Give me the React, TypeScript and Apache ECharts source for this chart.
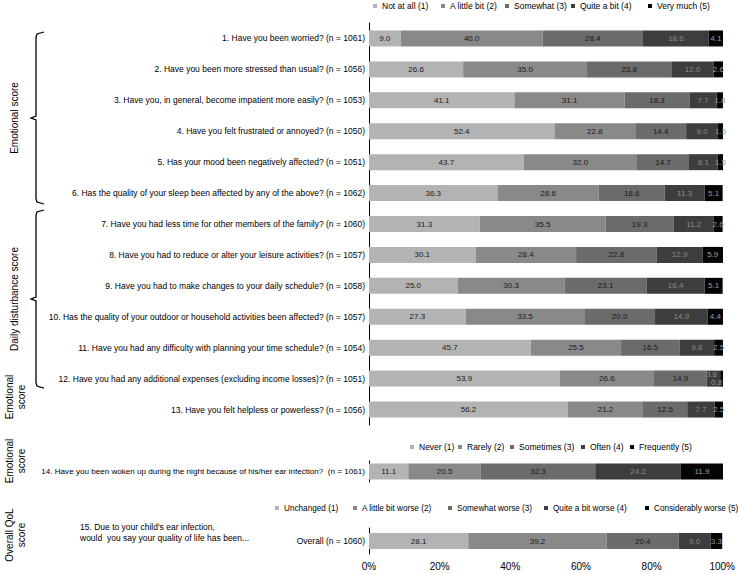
import React, { useEffect, useRef } from "react";
import * as echarts from "echarts";

const categories1 = [
  "1. Have you been worried? (n = 1061)",
  "2. Have you been more stressed than usual? (n = 1056)",
  "3. Have you, in general, become impatient more easily? (n = 1053)",
  "4. Have you felt frustrated or annoyed? (n = 1050)",
  "5. Has your mood been negatively affected? (n = 1051)",
  "6. Has the quality of your sleep been affected by any of the above? (n = 1062)",
  "7. Have you had less time for other members of the family? (n = 1060)",
  "8. Have you had to reduce or alter your leisure activities? (n = 1057)",
  "9. Have you had to make changes to your daily schedule? (n = 1058)",
  "10. Has the quality of your outdoor or household activities been affected? (n = 1057)",
  "11. Have you had any difficulty with planning your time schedule? (n = 1054)",
  "12. Have you had any additional expenses (excluding income losses)? (n = 1051)",
  "13. Have you felt helpless or powerless? (n = 1056)",
];
const legend1 = ["Not at all (1)", "A little bit (2)", "Somewhat (3)", "Quite a bit (4)", "Very much (5)"];
const notAtAll = [9.0, 26.6, 41.1, 52.4, 43.7, 36.3, 31.3, 30.1, 25.0, 27.3, 45.7, 53.9, 56.2];
const aLittleBit = [40.0, 35.0, 31.1, 22.8, 32.0, 28.6, 35.5, 28.4, 30.3, 33.5, 25.5, 26.6, 21.2];
const somewhat = [28.4, 23.8, 18.3, 14.4, 14.7, 18.6, 19.3, 22.8, 23.1, 20.0, 16.5, 14.9, 12.5];
const quiteABit = [18.6, 12.0, 7.7, 9.0, 8.1, 11.3, 11.2, 12.9, 16.4, 14.9, 9.8, 3.8, 7.7];
const veryMuch = [4.1, 2.6, 1.8, 1.5, 1.5, 5.1, 2.6, 5.9, 5.1, 4.4, 2.5, 0.8, 2.5];

const categories2 = ["14. Have you been woken up during the night because of his/her ear infection?  (n = 1061)"];
const legend2 = ["Never (1)", "Rarely (2)", "Sometimes (3)", "Often (4)", "Frequently (5)"];
const never = [11.1];
const rarely = [20.5];
const sometimes = [32.3];
const often = [24.2];
const frequently = [11.9];

const categories3 = ["Overall (n = 1060)"];
const legend3 = ["Unchanged (1)", "A little bit worse (2)", "Somewhat worse (3)", "Quite a bit worse (4)", "Considerably worse (5)"];
const unchanged = [28.1];
const littleWorse = [39.2];
const somewhatWorse = [20.4];
const quiteWorse = [9.0];
const considerablyWorse = [3.3];

const xTicks = [0, 20, 40, 60, 80, 100];

const COLORS = ["#b3b3b3", "#898989", "#6b6b6b", "#3d3d3d", "#050505"];
const LABEL_COLORS = ["#1a1a1a", "#1a1a1a", "#1a1a1a", "#8a8a8a", "#9a9a9a"];
const FONT = "'Liberation Sans', Arial, sans-serif";

// legend item layout (marker left x)
const LEGEND1_X = [373, 441, 505, 571, 648];
const LEGEND2_X = [410, 458, 510, 581, 630];
const LEGEND3_X = [275, 353, 448, 544, 645];

export default function App() {
  const ref = useRef<HTMLDivElement>(null);
  useEffect(() => {
    if (!ref.current) return;
    const chart = echarts.init(ref.current, null, { renderer: "svg" });

    const makeSeries = (
      names: string[],
      arrays: number[][],
      gridIdx: number,
      stack: string,
      special?: (si: number, di: number) => any
    ) =>
      arrays.map((arr, si) => ({
        type: "bar",
        name: names[si],
        stack,
        xAxisIndex: gridIdx,
        yAxisIndex: gridIdx,
        barWidth: 16,
        itemStyle: { color: COLORS[si] },
        label: {
          show: true,
          position: "inside",
          fontSize: 8,
          fontFamily: FONT,
          color: LABEL_COLORS[si],
          formatter: (p: any) => Number(p.value).toFixed(1),
        },
        emphasis: { disabled: true },
        data: arr.map((v, di) => {
          const extra = special ? special(si, di) : null;
          return extra ? { value: v, label: extra } : v;
        }),
      }));

    const special1 = (si: number, di: number) => {
      if (di === 11 && si === 3) return { offset: [-2, -4] };
      if (di === 11 && si === 4) return { offset: [-5, 4] };
      return null;
    };

    const yAxisBase = (data: string[], idx: number, fontSize = 8.5) => ({
      type: "category",
      gridIndex: idx,
      data,
      inverse: true,
      axisLine: { show: true, lineStyle: { color: "#000", width: 1 } },
      axisTick: { show: false },
      axisLabel: { fontSize, fontFamily: FONT, color: "#000", margin: 4 },
    });

    const xAxisBase = (idx: number, show: boolean) => ({
      type: "value",
      gridIndex: idx,
      min: 0,
      max: 100,
      interval: 20,
      axisLine: { show: false },
      axisTick: { show: false },
      splitLine: { show: false },
      axisLabel: {
        show,
        formatter: (v: number) => v + "%",
        fontSize: 10,
        fontFamily: FONT,
        color: "#000",
        margin: 7,
        customValues: xTicks,
      },
    });

    const legendItems = (names: string[], xs: number[], cy: number, fontSize: number) =>
      names.map((n, i) => ({
        data: [n],
        left: xs[i],
        top: cy - 6,
        padding: 0,
        orient: "horizontal",
        icon: "rect",
        itemWidth: 4,
        itemHeight: 4,
        itemGap: 0,
        selectedMode: false,
        textStyle: { fontSize, fontFamily: FONT, color: "#000", lineHeight: 12 },
      }));

    const rotText = (text: string, x: number, y: number) => ({
      type: "text",
      x,
      y,
      rotation: Math.PI / 2,
      style: {
        text,
        fontSize: 10,
        fontFamily: FONT,
        fill: "#000",
        align: "center",
        verticalAlign: "middle",
        lineHeight: 12,
      },
    });

    const brace = (top: number, mid: number, bottom: number) => ({
      type: "polyline",
      shape: {
        points: [
          [44, top],
          [37, top + 2],
          [36, top + 5],
          [36, mid - 2],
          [31, mid],
          [36, mid + 2],
          [36, bottom - 5],
          [37, bottom - 2],
          [44, bottom],
        ],
      },
      style: { stroke: "#000", lineWidth: 1.3, fill: "none" },
    });

    chart.setOption({
      animation: false,
      backgroundColor: "#fff",
      grid: [
        { left: 369, width: 354, top: 23, height: 402 },
        { left: 369, width: 354, top: 461, height: 21 },
        { left: 369, width: 354, top: 528, height: 26 },
      ],
      xAxis: [xAxisBase(0, false), xAxisBase(1, false), xAxisBase(2, true)],
      yAxis: [yAxisBase(categories1, 0), yAxisBase(categories2, 1, 8.1), yAxisBase(categories3, 2)],
      legend: [
        ...legendItems(legend1, LEGEND1_X, 6, 8.5),
        ...legendItems(legend2, LEGEND2_X, 447, 8.5),
        ...legendItems(legend3, LEGEND3_X, 508, 8.2),
      ],
      series: [
        ...makeSeries(legend1, [notAtAll, aLittleBit, somewhat, quiteABit, veryMuch], 0, "s1", special1),
        ...makeSeries(legend2, [never, rarely, sometimes, often, frequently], 1, "s2"),
        ...makeSeries(legend3, [unchanged, littleWorse, somewhatWorse, quiteWorse, considerablyWorse], 2, "s3"),
      ],
      graphic: [
        brace(32, 118, 204),
        brace(210, 299, 388),
        rotText("Emotional score", 14, 118),
        rotText("Daily disturbance score", 14, 299),
        rotText("Emotional\nscore", 15, 397),
        rotText("Emotional\nscore", 15, 461),
        rotText("Overall QoL\nscore", 15, 535),
        {
          type: "text",
          x: 80,
          y: 521,
          style: {
            text: "15. Due to your child's ear infection,\nwould  you say your quality of life has been...",
            fontSize: 8.5,
            fontFamily: FONT,
            fill: "#000",
            align: "left",
            verticalAlign: "top",
            lineHeight: 11,
          },
        },
      ],
    });

    return () => chart.dispose();
  }, []);

  return (
    <div
      ref={ref}
      style={{ position: "fixed", left: 0, top: 0, width: 738, height: 574, background: "#fff" }}
    />
  );
}
